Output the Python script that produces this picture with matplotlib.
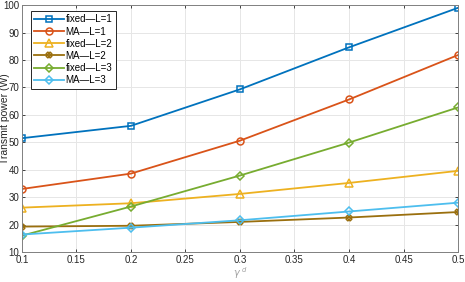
import matplotlib
matplotlib.use('Agg')
import matplotlib.pyplot as plt

eta = [0.1, 0.2, 0.3, 0.4, 0.5]
fixed_L1 = [51.5, 56.0, 69.3, 84.6, 99.0]
ma_L1 = [33.0, 38.6, 50.6, 65.6, 81.8]
fixed_L2 = [26.2, 27.8, 31.2, 35.2, 39.6]
ma_L2 = [19.3, 19.6, 21.0, 22.6, 24.6]
fixed_L3 = [16.0, 26.6, 37.9, 49.9, 62.7]
ma_L3 = [16.4, 18.9, 21.6, 24.8, 28.0]

labels = ['fixed\u2014L=1', 'MA\u2014L=1', 'fixed\u2014L=2',
          'MA\u2014L=2', 'fixed\u2014L=3', 'MA\u2014L=3']
series = [fixed_L1, ma_L1, fixed_L2, ma_L2, fixed_L3, ma_L3]
colors = ['#0072BD', '#D95319', '#EDB120', '#9A6F0E', '#77AC30', '#4DBEEE']
markers = ['s', 'o', '^', 'X', 'D', 'D']
msizes = [4.5, 5, 5.5, 4, 4, 4]

plt.rcParams['font.family'] = 'Liberation Sans'
fig = plt.figure(figsize=(4.65, 2.82), dpi=100)
ax = fig.add_axes([0.047, 0.106, 0.938, 0.876])

for y, lab, c, m, ms in zip(series, labels, colors, markers, msizes):
    ax.plot(eta, y, color=c, marker=m, markersize=ms, markerfacecolor='none',
            markeredgewidth=1.1, linewidth=1.3, label=lab)

ax.set_xlim(0.1, 0.5)
ax.set_ylim(10, 100)
ax.set_xticks([0.1, 0.15, 0.2, 0.25, 0.3, 0.35, 0.4, 0.45, 0.5])
ax.set_xticklabels(['0.1', '0.15', '0.2', '0.25', '0.3', '0.35', '0.4', '0.45', '0.5'])
ax.set_yticks(range(10, 101, 10))
ax.grid(True, color='#e6e6e6', linewidth=0.7)
for s in ax.spines.values():
    s.set_color('#808080')
    s.set_linewidth(0.7)
ax.tick_params(labelsize=7, colors='#262626', length=2, width=0.6, direction='in', pad=2)
ax.tick_params(top=True, right=True)
ax.set_xlabel(r'$\gamma^{\ d}$', fontsize=7, color='#a0a0a0', labelpad=0)
ax.set_ylabel('Transmit power (W)', fontsize=7.5, color='#262626')
ax.yaxis.set_label_coords(-0.028, 0.54)

leg = ax.legend(loc='upper left', bbox_to_anchor=(0.02, 0.978), fontsize=7,
                fancybox=False, framealpha=1, edgecolor='#262626',
                handlelength=3.0, handletextpad=0.2, labelspacing=0.22,
                borderpad=0.4, borderaxespad=0)
leg.get_frame().set_linewidth(0.7)

fig.savefig('out.png', dpi=100)
